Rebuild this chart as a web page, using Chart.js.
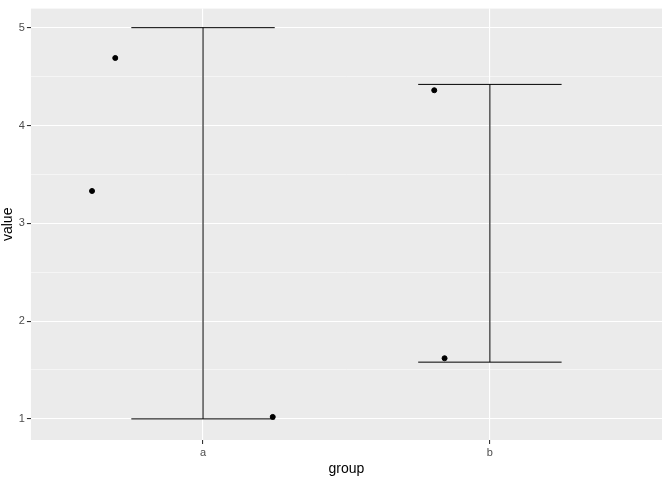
<!DOCTYPE html>
<html>
<head>
<meta charset="utf-8">
<script src="https://cdn.jsdelivr.net/npm/chart.js@4"></script>
<style>
  body { margin: 0; background: #fff; }
  #wrap { width: 672px; height: 480px; }
</style>
</head>
<body>
<div id="wrap"><canvas id="c"></canvas></div>
<script>
// group categories and their positions on the x scale
const groups = ['a', 'b'];
const groupPos = [1, 2];

// error bar ends per group
const barLow = [1.0, 1.58];
const barHigh = [5.0, 4.42];
const barHalfWidth = 0.25;

// jittered points
const pointX = [0.694, 0.613, 1.243, 1.806, 1.842];
const pointY = [4.69, 3.33, 1.02, 4.36, 1.62];

const panelBg = {
    id: 'panelBg',
    beforeDraw(chart) {
        const { ctx, chartArea: a } = chart;
        ctx.save();
        ctx.fillStyle = '#EBEBEB';
        ctx.fillRect(a.left, a.top, a.right - a.left, a.bottom - a.top);
        ctx.restore();
    }
};

const errorBars = {
    id: 'errorBars',
    afterDatasetsDraw(chart) {
        const { ctx, scales: { x, y } } = chart;
        ctx.save();
        ctx.strokeStyle = '#000';
        ctx.lineWidth = 1;
        groupPos.forEach((g, i) => {
            const cx = x.getPixelForValue(g);
            const l = x.getPixelForValue(g - barHalfWidth);
            const r = x.getPixelForValue(g + barHalfWidth);
            const lo = y.getPixelForValue(barLow[i]);
            const hi = y.getPixelForValue(barHigh[i]);
            ctx.beginPath();
            ctx.moveTo(l, hi); ctx.lineTo(r, hi);
            ctx.moveTo(cx, hi); ctx.lineTo(cx, lo);
            ctx.moveTo(l, lo); ctx.lineTo(r, lo);
            ctx.stroke();
        });
        ctx.restore();
    }
};

new Chart(document.getElementById('c'), {
    type: 'scatter',
    data: {
        datasets: [{
            data: pointX.map((v, i) => ({ x: v, y: pointY[i] })),
            backgroundColor: '#000',
            borderColor: '#000',
            pointRadius: 2.5
        }]
    },
    options: {
        responsive: true,
        maintainAspectRatio: false,
        animation: false,
        layout: { padding: { top: 8, right: 10, left: 0, bottom: 0 } },
        plugins: { legend: { display: false }, tooltip: { enabled: false } },
        scales: {
            x: {
                type: 'linear',
                min: 0.4, max: 2.6,
                afterBuildTicks: s => { s.ticks = groupPos.map(v => ({ value: v })); },
                ticks: {
                    color: '#4D4D4D', font: { family: 'Arial', size: 11 },
                    padding: 2,
                    callback: v => groups[groupPos.indexOf(v)] ?? ''
                },
                grid: { color: '#FFFFFF', lineWidth: 1.1, tickColor: '#333', tickLength: 4 },
                border: { display: false },
                title: { display: true, text: 'group', color: '#000', font: { family: 'Arial', size: 14 }, padding: { top: 0, bottom: 2 } }
            },
            y: {
                min: 0.784, max: 5.195,
                afterBuildTicks: s => {
                    const t = [];
                    for (let v = 1; v <= 5; v += 0.5) t.push({ value: v });
                    s.ticks = t;
                },
                ticks: {
                    color: '#4D4D4D', font: { family: 'Arial', size: 11 },
                    padding: 2,
                    callback: v => Number.isInteger(v) ? String(v) : ''
                },
                grid: {
                    color: '#FFFFFF',
                    lineWidth: c => Number.isInteger(c.tick?.value) ? 1.1 : 0.5,
                    tickColor: c => Number.isInteger(c.tick?.value) ? '#333' : 'rgba(0,0,0,0)',
                    tickLength: 4
                },
                border: { display: false },
                title: { display: true, text: 'value', color: '#000', font: { family: 'Arial', size: 14 }, padding: { top: 0, bottom: 0 } }
            }
        }
    },
    plugins: [panelBg, errorBars]
});
</script>
</body>
</html>
